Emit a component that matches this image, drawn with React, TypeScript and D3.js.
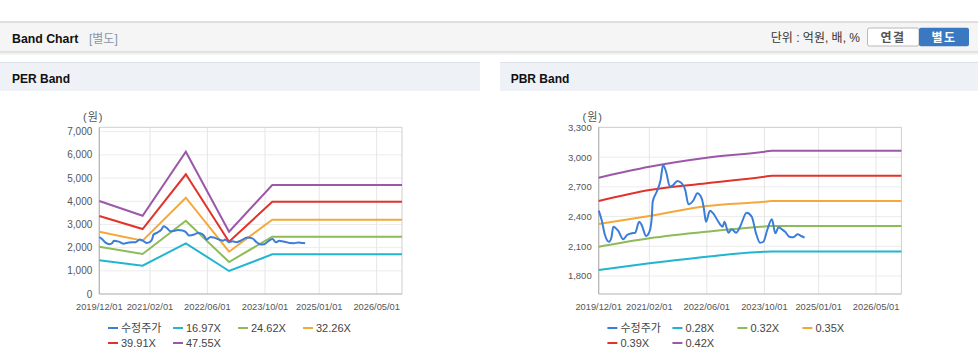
import React from "react";
import * as d3 from "d3";

const FONT = "'Liberation Sans', Arial, 'Noto Sans CJK KR', sans-serif";

// ---------- data ----------
const xTickLabels = ["2019/12/01", "2021/02/01", "2022/06/01", "2023/10/01", "2025/01/01", "2026/05/01"];
const xStart = "2019-12-01";
const xEnd = "2026-12-01";

const priceName = "수정주가";
const priceDates = [
  "2019-12-01", "2019-12-26", "2020-01-23", "2020-02-26", "2020-03-19", "2020-04-02", "2020-05-13",
  "2020-06-25", "2020-07-28", "2020-09-07", "2020-10-04", "2020-11-07", "2020-11-28", "2021-01-04",
  "2021-02-02", "2021-02-22", "2021-03-01", "2021-04-04", "2021-05-07", "2021-05-28", "2021-06-22",
  "2021-07-25", "2021-08-22", "2021-09-25", "2021-11-02", "2021-12-01", "2021-12-28", "2022-02-10",
  "2022-03-13", "2022-04-19", "2022-05-07", "2022-05-25", "2022-06-28", "2022-07-25", "2022-09-07",
  "2022-10-13", "2022-10-28", "2022-12-01", "2022-12-28", "2023-02-04", "2023-03-09", "2023-05-04",
  "2023-06-16", "2023-07-22", "2023-08-25", "2023-09-22", "2023-10-25", "2023-12-03", "2024-01-01",
  "2024-01-28", "2024-02-25", "2024-03-24", "2024-04-28", "2024-06-01", "2024-07-07", "2024-08-07",
  "2024-09-04",
];
const priceValues = [
  2460, 2366, 2214, 2146, 2197, 2298, 2258,
  2171, 2214, 2231, 2237, 2348, 2315, 2204,
  2247, 2399, 2550, 2651, 2770, 2921, 2853,
  2702, 2719, 2760, 2736, 2669, 2524, 2568,
  2635, 2585, 2484, 2348, 2460, 2433, 2348,
  2298, 2348, 2237, 2272, 2237, 2298, 2439,
  2399, 2231, 2136, 2146, 2265, 2373, 2231,
  2292, 2272, 2247, 2197, 2191, 2221, 2204,
  2187,
];

const perNames = ["16.97X", "24.62X", "32.26X", "39.91X", "47.55X"];
const perTicks = [0, 1000, 2000, 3000, 4000, 5000, 6000, 7000];
const perBandDates = ["2019-12-01", "2020-12-01", "2021-12-01", "2022-12-01", "2023-12-01", "2026-12-01"];
const per1697 = [1453, 1220, 2186, 992, 1712, 1712];
const per2462 = [2040, 1725, 3161, 1380, 2471, 2471];
const per3226 = [2687, 2298, 4153, 1824, 3204, 3204];
const per3991 = [3364, 2803, 5162, 2255, 3980, 3980];
const per4755 = [4010, 3376, 6136, 2687, 4700, 4700];

const pbrNames = ["0.28X", "0.32X", "0.35X", "0.39X", "0.42X"];
const pbrTicks = [1800, 2100, 2400, 2700, 3000, 3300];
const pbrBandDates = ["2019-12-01", "2021-02-01", "2022-06-01", "2023-10-01", "2023-12-01", "2026-12-01"];
const pbr028 = [1861, 1928, 1995, 2045, 2047, 2047];
const pbr032 = [2096, 2181, 2248, 2300, 2305, 2305];
const pbr035 = [2325, 2406, 2507, 2550, 2557, 2557];
const pbr039 = [2557, 2668, 2736, 2803, 2813, 2813];
const pbr042 = [2793, 2904, 2995, 3056, 3066, 3066];

const colors = ["#3b7dd8", "#22b5cf", "#8cbb57", "#f5a83a", "#e2332b", "#9c58a8"];

// ---------- helpers ----------
const parseDay = d3.timeParse("%Y-%m-%d");
const parseTick = d3.timeParse("%Y/%m/%d");

type P = [Date, number];

function BandChart(props: {
  ox: number;
  yDomain: [number, number];
  yRange: [number, number];
  ticks: number[];
  bandDates: string[];
  bands: number[][];
  names: string[];
  tickFont: number;
  smoothBands: boolean;
}) {
  const { ox, yDomain, yRange, ticks, bandDates, bands, names, tickFont, smoothBands } = props;
  const left = 99.3 + ox;
  const right = 402 + ox;
  const top = 127.3;
  const bottom = 294;
  const x = d3.scaleTime().domain([parseDay(xStart)!, parseDay(xEnd)!]).range([left, right]);
  const y = d3.scaleLinear().domain(yDomain).range(yRange);
  const line = d3
    .line<P>()
    .x((d) => x(d[0]))
    .y((d) => y(d[1]))
    .curve(smoothBands ? d3.curveMonotoneX : d3.curveLinear);
  const priceLine = d3.line<P>().x((d) => x(d[0])).y((d) => y(d[1])).curve(d3.curveMonotoneX);
  const fmt = d3.format(",");
  const pricePts: P[] = priceDates.map((d, i) => [parseDay(d)!, priceValues[i]]);
  const legendItems = [priceName, ...names];

  return (
    <g>
      {/* grid */}
      {ticks.map((t) => (
        <line key={"h" + t} x1={left} x2={right} y1={y(t)} y2={y(t)} stroke="#ececec" strokeWidth={1} />
      ))}
      {xTickLabels.map((l) => {
        const xx = x(parseTick(l)!);
        return <line key={"v" + l} x1={xx} x2={xx} y1={top} y2={bottom} stroke="#e6e6e6" strokeWidth={1} />;
      })}
      {/* frame */}
      <line x1={left} x2={right} y1={top} y2={top} stroke="#cfcfcf" strokeWidth={1} />
      <line x1={right} x2={right} y1={top} y2={bottom} stroke="#cfcfcf" strokeWidth={1} />
      <line x1={left} x2={left} y1={top} y2={bottom} stroke="#b4b4b4" strokeWidth={1.2} />
      <line x1={left} x2={right} y1={bottom} y2={bottom} stroke="#b4b4b4" strokeWidth={1.2} />
      {/* y labels */}
      {ticks.map((t) => (
        <text key={"yl" + t} x={left - 7} y={y(t)} dy="0.35em" textAnchor="end" fontSize={tickFont} fill="#555" fontFamily={FONT}>
          {fmt(t)}
        </text>
      ))}
      <text x={left - 6} y={121} textAnchor="middle" fontSize={11} fill="#555" fontFamily={FONT} letterSpacing={1}>
        (원)
      </text>
      {/* x labels */}
      {xTickLabels.map((l) => (
        <text key={"xl" + l} x={x(parseTick(l)!)} y={309.5} textAnchor="middle" fontSize={9.3} fill="#555" fontFamily={FONT}>
          {l}
        </text>
      ))}
      {/* bands */}
      {bands.map((vals, i) => {
        const pts: P[] = bandDates.map((d, j) => [parseDay(d)!, vals[j]]);
        return <path key={"b" + i} d={line(pts) || ""} fill="none" stroke={colors[i + 1]} strokeWidth={2} />;
      })}
      <path d={priceLine(pricePts) || ""} fill="none" stroke={colors[0]} strokeWidth={2} />
      {/* legend */}
      {legendItems.map((name, i) => {
        const col = i % 4;
        const row = Math.floor(i / 4);
        const lx = 108 + ox + col * 65;
        const ly = 328 + row * 15;
        return (
          <g key={"lg" + i}>
            <line x1={lx} x2={lx + 10} y1={ly} y2={ly} stroke={colors[i]} strokeWidth={2} />
            <text x={lx + 13} y={ly} dy="0.36em" fontSize={11} fill="#444" fontFamily={FONT}>
              {name}
            </text>
          </g>
        );
      })}
    </g>
  );
}

export default function App() {
  return (
    <svg
      width={978}
      height={361}
      viewBox="0 0 978 361"
      style={{ position: "absolute", left: 0, top: 0, display: "block", background: "#fff" }}
    >
      {/* page header */}
      <rect x={0} y={22} width={978} height={30} fill="#f5f5f5" />
      <line x1={0} x2={978} y1={22} y2={22} stroke="#d4d4d4" strokeWidth={1.5} />
      <line x1={0} x2={978} y1={52} y2={52} stroke="#cdcdcd" strokeWidth={1} />
      <line x1={0} x2={978} y1={53} y2={53} stroke="#e2e2e2" strokeWidth={1} />
      <line x1={0} x2={978} y1={54} y2={54} stroke="#f0f0f0" strokeWidth={1} />
      <text x={12} y={42.5} fontSize={12.3} fontWeight="bold" fill="#111" fontFamily={FONT}>
        Band Chart
      </text>
      <text x={89} y={42.5} fontSize={12} fill="#8795a8" fontFamily={FONT}>
        [별도]
      </text>
      <text x={860} y={42} textAnchor="end" fontSize={12} fill="#333" fontFamily={FONT}>
        단위 : 억원, 배, %
      </text>
      <rect x={867.5} y={28} width={51.5} height={18} rx={2} fill="#fff" stroke="#b8b8b8" strokeWidth={1} />
      <text x={893} y={41.5} textAnchor="middle" fontSize={12} fontWeight="bold" fill="#555" fontFamily={FONT} letterSpacing={1.5}>
        연결
      </text>
      <rect x={919} y={27.7} width={50} height={18.5} rx={2} fill="#3b78c2" />
      <text x={944} y={41.5} textAnchor="middle" fontSize={12} fontWeight="bold" fill="#fff" fontFamily={FONT} letterSpacing={1.5}>
        별도
      </text>

      {/* section headers */}
      <rect x={0} y={63} width={480} height={28} fill="#eef2f7" />
      <line x1={0} x2={480} y1={62.5} y2={62.5} stroke="#dde2e8" strokeWidth={1.2} />
      <text x={12} y={82.5} fontSize={12} fontWeight="bold" fill="#111" fontFamily={FONT}>
        PER Band
      </text>
      <rect x={500} y={63} width={478} height={28} fill="#eef2f7" />
      <line x1={500} x2={978} y1={62.5} y2={62.5} stroke="#dde2e8" strokeWidth={1.2} />
      <text x={510.7} y={82.5} fontSize={12} fontWeight="bold" fill="#111" fontFamily={FONT}>
        PBR Band
      </text>

      <BandChart
        ox={0}
        yDomain={[0, 7000]}
        yRange={[294, 131.7]}
        ticks={perTicks}
        bandDates={perBandDates}
        bands={[per1697, per2462, per3226, per3991, per4755]}
        names={perNames}
        tickFont={10}
        smoothBands={false}
      />
      <BandChart
        ox={499.4}
        yDomain={[1800, 3300]}
        yRange={[276, 127.5]}
        ticks={pbrTicks}
        bandDates={pbrBandDates}
        bands={[pbr028, pbr032, pbr035, pbr039, pbr042]}
        names={pbrNames}
        tickFont={9.5}
        smoothBands={true}
      />
    </svg>
  );
}
